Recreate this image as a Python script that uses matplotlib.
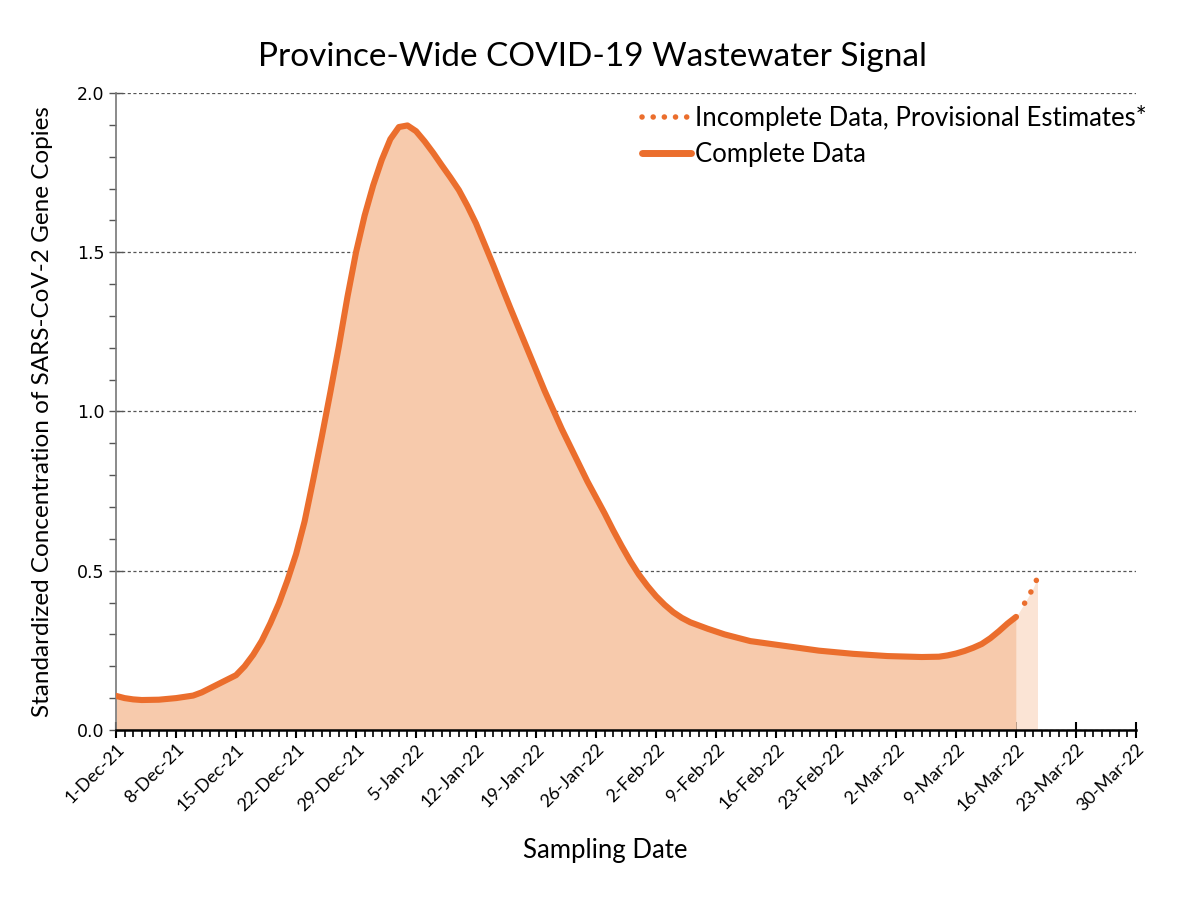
import pandas as pd
import matplotlib
matplotlib.use('Agg')
import matplotlib.pyplot as plt
import matplotlib.dates as mdates
from matplotlib.lines import Line2D

# complete data
complete_dates = ['2021-12-01', '2021-12-02', '2021-12-03', '2021-12-04', '2021-12-06',
                  '2021-12-08', '2021-12-10', '2021-12-11', '2021-12-13', '2021-12-15',
                  '2021-12-16', '2021-12-17', '2021-12-18', '2021-12-19', '2021-12-20',
                  '2021-12-21', '2021-12-22', '2021-12-23', '2021-12-24', '2021-12-25',
                  '2021-12-26', '2021-12-27', '2021-12-28', '2021-12-29', '2021-12-30',
                  '2021-12-31', '2022-01-01', '2022-01-02', '2022-01-03', '2022-01-04',
                  '2022-01-05', '2022-01-06', '2022-01-07', '2022-01-08', '2022-01-09',
                  '2022-01-10', '2022-01-11', '2022-01-12', '2022-01-13', '2022-01-14',
                  '2022-01-15', '2022-01-16', '2022-01-17', '2022-01-18', '2022-01-19',
                  '2022-01-20', '2022-01-21', '2022-01-22', '2022-01-23', '2022-01-24',
                  '2022-01-25', '2022-01-26', '2022-01-27', '2022-01-28', '2022-01-29',
                  '2022-01-30', '2022-01-31', '2022-02-01', '2022-02-02', '2022-02-03',
                  '2022-02-04', '2022-02-05', '2022-02-06', '2022-02-08', '2022-02-10',
                  '2022-02-13', '2022-02-17', '2022-02-21', '2022-02-25', '2022-03-01',
                  '2022-03-05', '2022-03-07', '2022-03-08', '2022-03-09', '2022-03-10',
                  '2022-03-11', '2022-03-12', '2022-03-13', '2022-03-14', '2022-03-15',
                  '2022-03-16']
complete_vals = [0.107, 0.100, 0.096, 0.094, 0.095,
                 0.100, 0.108, 0.118, 0.145, 0.172,
                 0.200, 0.236, 0.280, 0.335, 0.397,
                 0.470, 0.552, 0.655, 0.785, 0.920,
                 1.060, 1.205, 1.360, 1.500, 1.615,
                 1.710, 1.790, 1.855, 1.893, 1.898,
                 1.880, 1.848, 1.812, 1.773, 1.735,
                 1.695, 1.645, 1.590, 1.525, 1.460,
                 1.392, 1.325, 1.260, 1.195, 1.130,
                 1.065, 1.005, 0.945, 0.890, 0.835,
                 0.780, 0.730, 0.680, 0.627, 0.577,
                 0.530, 0.488, 0.452, 0.420, 0.393,
                 0.370, 0.352, 0.338, 0.318, 0.300,
                 0.279, 0.264, 0.249, 0.239, 0.232,
                 0.229, 0.230, 0.234, 0.240, 0.248,
                 0.258, 0.270, 0.288, 0.310, 0.334,
                 0.355]

# incomplete data, provisional estimates
prov_dates = ['2022-03-16 00:00', '2022-03-17 00:00', '2022-03-18 00:00', '2022-03-18 12:00']
prov_vals = [0.355, 0.398, 0.446, 0.478]

x_start, x_end = '2021-12-01', '2022-03-30'

line_col = '#EB6E2D'
fill_col = '#F7CAAC'
fill_prov = '#FBE4D5'

plt.rcParams['font.family'] = ['Lato', 'DejaVu Sans']

cd = pd.to_datetime(complete_dates)
pdts = pd.to_datetime(prov_dates, format='%Y-%m-%d %H:%M')

fig = plt.figure(figsize=(12, 9.24), dpi=100)
ax = fig.add_axes([0.0967, 0.21, 0.85, 0.6894])

ax.fill_between(pdts, prov_vals, 0, color=fill_prov, lw=0, zorder=1)
ax.fill_between(cd, complete_vals, 0, color=fill_col, lw=0, zorder=1)
ax.plot(cd, complete_vals, color=line_col, lw=4.4, solid_capstyle='round',
        solid_joinstyle='round', zorder=3)
ax.plot(pdts[1:], prov_vals[1:], color=line_col, lw=4, linestyle=(0, (0.01, 2.3)),
        dash_capstyle='round', zorder=3)

ax.set_xlim(pd.Timestamp(x_start), pd.Timestamp(x_end))
ax.set_ylim(0, 2.0)

ax.xaxis.set_major_locator(mdates.WeekdayLocator(byweekday=mdates.WE))
ax.xaxis.set_minor_locator(mdates.DayLocator())
ax.xaxis.set_major_formatter(mdates.DateFormatter('%-d-%b-%y'))
ax.set_yticks([0, 0.5, 1.0, 1.5, 2.0])
ax.set_yticks([i / 10 for i in range(21)], minor=True)
ax.set_yticklabels(['0.0', '0.5', '1.0', '1.5', '2.0'], family='DejaVu Sans', fontsize=12.5)

ax.tick_params(axis='x', which='major', direction='inout', length=12, width=1.5, color='black',
               labelsize=13, pad=2)
ax.tick_params(axis='x', which='minor', direction='out', length=5, width=1.2, color='black')
ax.tick_params(axis='y', which='major', direction='inout', length=10, width=1, color='#555555')
ax.tick_params(axis='y', which='minor', direction='out', length=5, width=1, color='#555555')
for lab in ax.get_xticklabels():
    lab.set_rotation(45)
    lab.set_ha('right')
    lab.set_rotation_mode('anchor')

ax.grid(axis='y', which='major', linestyle=(0, (2.5, 2)), color='#555555', lw=0.9)
ax.set_axisbelow(True)
for s in ['top', 'right']:
    ax.spines[s].set_visible(False)
ax.spines['left'].set_color('#777777')
ax.spines['left'].set_linewidth(1.2)
ax.spines['bottom'].set_color('black')
ax.spines['bottom'].set_linewidth(1.8)

fig.text(0.494, 0.938, 'Province-Wide COVID-19 Wastewater Signal', fontsize=24,
         ha='center', va='center')
ax.set_xlabel('Sampling Date', fontsize=18.5)
ax.xaxis.set_label_coords(0.48, -0.17)
ax.set_ylabel('Standardized Concentration of SARS-CoV-2 Gene Copies', fontsize=17.5)
ax.yaxis.set_label_coords(-0.062, 0.5)

handles = [Line2D([], [], color=line_col, lw=4, linestyle=(0, (0.01, 2.0)), dash_capstyle='round'),
           Line2D([], [], color=line_col, lw=5, solid_capstyle='round')]
ax.legend(handles, ['Incomplete Data, Provisional Estimates*', 'Complete Data'],
          loc='upper right', bbox_to_anchor=(1.033, 1.018), frameon=False, fontsize=18.5,
          handlelength=1.9, handletextpad=0.15, labelspacing=0.45)

fig.savefig('out.png', dpi=100)
